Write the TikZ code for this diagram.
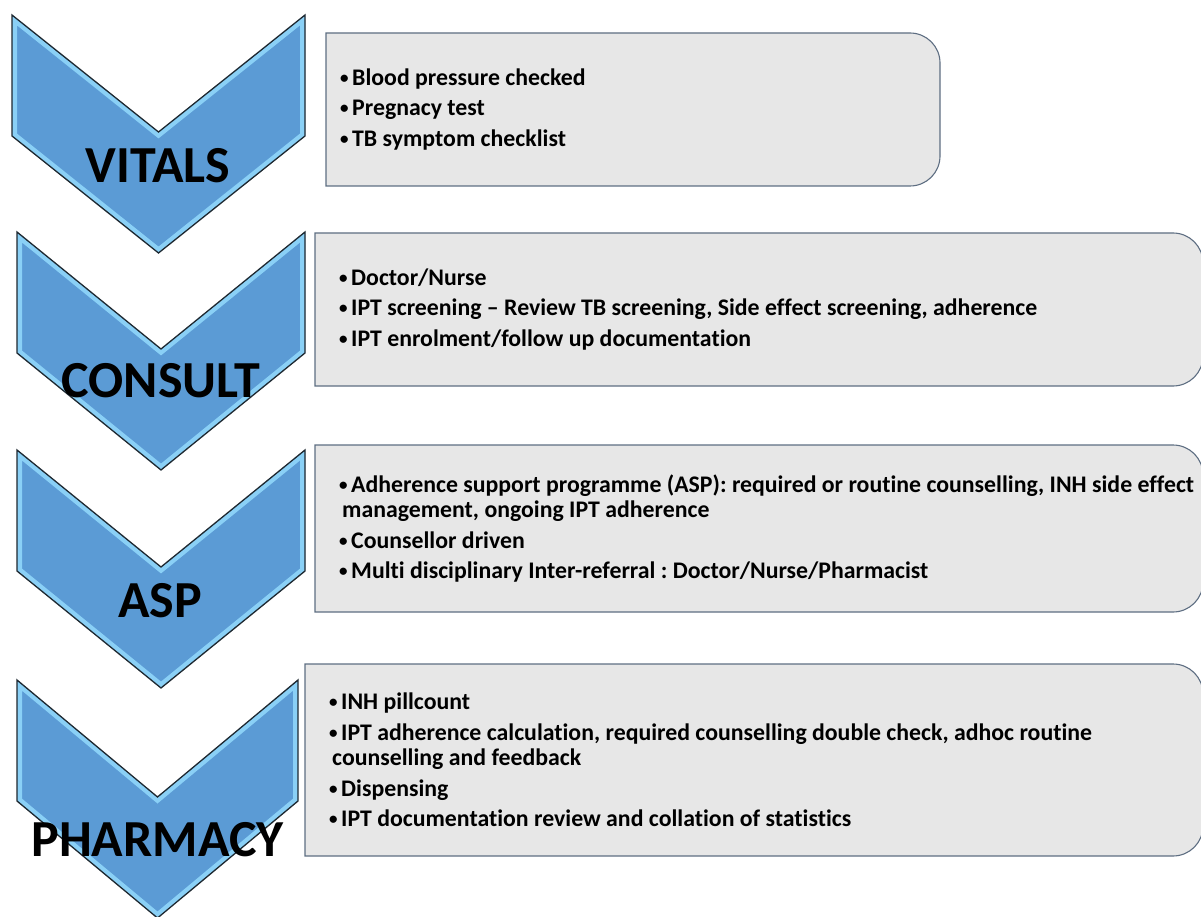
\documentclass[tikz,border=0pt]{standalone}
\usepackage{fontspec}
\setmainfont[Ligatures=NoCommon]{Carlito}
\usepackage{tikz}
\definecolor{chevblue}{HTML}{5B9BD5}
\definecolor{chevlight}{HTML}{8AD0F6}
\definecolor{chevedge}{HTML}{1E2830}
\definecolor{boxgray}{HTML}{E7E7E7}
\definecolor{boxedge}{HTML}{5E6E82}

% chevron with a bevelled rim: left x, top y, right x
\newcommand{\stagechevron}[3]{%
  \def\chevp{(#1,#2) -- ({(#1+#3)/2},{#2+117}) -- (#3,#2) -- (#3,{#2+121})
    -- ({(#1+#3)/2},{#2+238}) -- (#1,{#2+121}) -- cycle}
  \begin{scope}
    \clip \chevp;
    \fill[chevblue] \chevp;
    \draw[chevlight, line width=10pt] \chevp;
  \end{scope}
  \draw[chevedge, line width=1.3pt, line join=miter] \chevp;
}
% grey box, rounded on the right: left, top, right, bottom
\newcommand{\infobox}[4]{%
  \draw[boxedge, fill=boxgray, line width=1.1pt]
    (#1,#2) -- ({#3-30},#2) .. controls ({#3-13.4},#2) and (#3,{#2+13.4}) .. (#3,{#2+30})
    -- (#3,{#4-30}) .. controls (#3,{#4-13.4}) and ({#3-13.4},#4) .. ({#3-30},#4)
    -- (#1,#4) -- cycle;
}
% small bullet in front of each item
\newcommand{\bul}{\makebox[12pt][l]{\raisebox{2pt}{\fontsize{17}{17}\selectfont•}}}
\frenchspacing

\begin{document}
\begin{tikzpicture}[
  x=1pt, y=-1pt,
  steplabel/.style={inner sep=0pt, font=\fontsize{52}{60}\selectfont\bfseries},
  steptext/.style={anchor=west, inner sep=0pt, align=left,
                   font=\fontsize{23.8}{25.5}\selectfont\bfseries}]
\useasboundingbox (0,0) rectangle (1201,917);

\stagechevron{12}{15}{305}
\stagechevron{17}{232}{305}
\stagechevron{17}{450}{305}
\stagechevron{17}{680}{298}

\infobox{326}{33}{940}{186}
\infobox{315}{233}{1203}{386}
\infobox{315}{445}{1203}{612}
\infobox{305}{664}{1203}{856}

\node[steptext] (vitalsinfo) at (340,109.5)
  {\bul Blood pressure checked\\[5pt]
   \bul Pregnacy test\\[5pt]
   \bul TB symptom checklist};
\node[steptext] (consultinfo) at (339,309.5)
  {\bul Doctor/Nurse\\[5pt]
   \bul IPT screening – Review TB screening, Side effect screening, adherence\\[5pt]
   \bul IPT enrolment/follow up documentation};
\node[steptext] (aspinfo) at (339,528.5)
  {\bul Adherence support programme (ASP): required or routine counselling, INH side effect\\
   \hspace*{3pt}management, ongoing IPT adherence\\[5pt]
   \bul Counsellor driven\\[5pt]
   \bul Multi disciplinary Inter-referral : Doctor/Nurse/Pharmacist};
\node[steptext] (pharmacyinfo) at (329,760)
  {\bul INH pillcount\\[5pt]
   \bul IPT adherence calculation, required counselling double check, adhoc routine\\
   \hspace*{3pt}counselling and feedback\\[5pt]
   \bul Dispensing\\[5pt]
   \bul IPT documentation review and collation of statistics};

\node[steplabel] (vitals) at (158,165.5) {VITALS};
\node[steplabel] (consult) at (161,381) {CONSULT};
\node[steplabel] (asp) at (160,601) {ASP};
\node[steplabel] (pharmacy) at (157.5,840) {PHARMACY};
\end{tikzpicture}
\end{document}
